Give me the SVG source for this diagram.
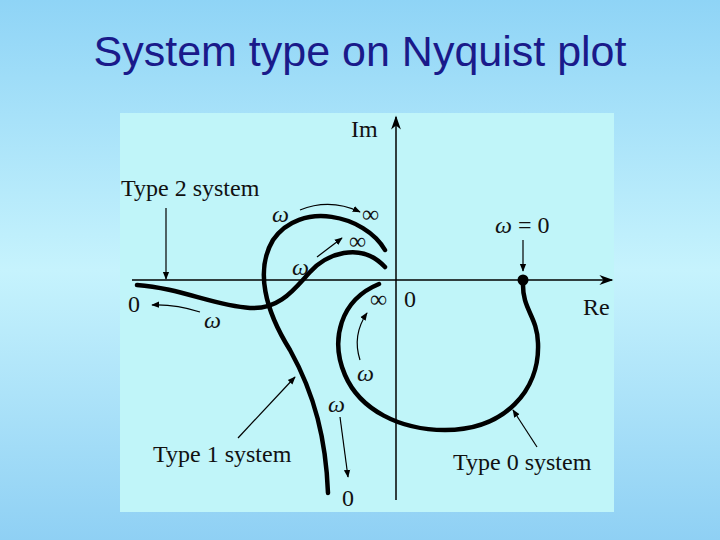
<svg xmlns="http://www.w3.org/2000/svg" width="720" height="540" viewBox="0 0 720 540">
<defs>
<linearGradient id="bg" x1="0" y1="0" x2="0" y2="1">
<stop offset="0" stop-color="#8fd4f6"/><stop offset="0.5" stop-color="#c6f3fd"/><stop offset="1" stop-color="#8fd0f4"/>
</linearGradient>
<marker id="ah" viewBox="0 0 10 10" refX="9" refY="5" markerWidth="8" markerHeight="8" orient="auto" markerUnits="userSpaceOnUse"><path d="M0,1 L10,5 L0,9 z" fill="#000"/></marker>
<marker id="axh" viewBox="0 0 10 10" refX="9" refY="5" markerWidth="18" markerHeight="14" orient="auto" markerUnits="userSpaceOnUse"><path d="M0,1.5 L10,5 L0,8.5 L3,5 z" fill="#000"/></marker>
</defs>
<style>
.t{font-family:"Liberation Serif",serif;font-size:24px;fill:#111}
.c{fill:none;stroke:#000;stroke-width:4.5;stroke-linecap:round}
.a{fill:none;stroke:#000;stroke-width:1.2;marker-end:url(#ah)}
.ax{fill:none;stroke:#000;stroke-width:1.5;marker-end:url(#axh)}
</style>
<rect width="720" height="540" fill="url(#bg)"/>
<text x="360" y="66" text-anchor="middle" font-family="Liberation Sans,Arial,sans-serif" font-size="43" fill="#1a1a8a">System type on Nyquist plot</text>
<rect x="120" y="113" width="494" height="399" fill="#c0f5f9"/>
<g id="connectors">
<path class="ax" d="M132,280 L612,280"/>
<path class="ax" d="M396,500 L396,117"/>
<path id="type2" class="c" d="M137,285 C180,288 215,306 250,308 C280,310 295,288 310,272 C325,255 360,240 385,267"/>
<path id="type1" class="c" d="M385,250 C365,215 300,200 273,240 C255,270 265,310 290,350 C315,395 326,440 328,493"/>
<path id="type0" class="c" d="M379,284 C340,300 330,340 345,375 C360,410 400,430 445,430 C505,430 540,390 538,343 C537,315 522,310 523,282"/>
<circle cx="523" cy="280" r="5.5" fill="#000"/>
<path class="a" d="M166,208 L166,279"/>
<path class="a" d="M523,240 L523,271"/>
<path class="a" d="M238,438 L295,377"/>
<path class="a" d="M537,447 L513,410"/>
<path class="a" d="M300,210 Q330,198 360,212"/>
<path class="a" d="M317,257 L342,238"/>
<path class="a" d="M200,312 Q175,304 152,305"/>
<path class="a" d="M360,360 Q352,335 367,313"/>
<path class="a" d="M340,417 L348,477"/>
</g>
<g id="labels">
<text class="t" x="121" y="196">Type 2 system</text>
<text class="t" x="153" y="462">Type 1 system</text>
<text class="t" x="453" y="470">Type 0 system</text>
<text class="t" x="272" y="222" font-style="italic">ω</text>
<text class="t" x="362" y="222">∞</text>
<text class="t" x="349" y="249">∞</text>
<text class="t" x="292" y="275" font-style="italic">ω</text>
<text class="t" x="128" y="312">0</text>
<text class="t" x="204" y="328" font-style="italic">ω</text>
<text class="t" x="370" y="307">∞</text>
<text class="t" x="404" y="307">0</text>
<text class="t" x="583" y="315">Re</text>
<text class="t" x="351" y="137">Im</text>
<text class="t" x="495" y="233"><tspan font-style="italic">ω</tspan> = 0</text>
<text class="t" x="357" y="381" font-style="italic">ω</text>
<text class="t" x="328" y="412" font-style="italic">ω</text>
<text class="t" x="342" y="506">0</text>
</g>
</svg>
